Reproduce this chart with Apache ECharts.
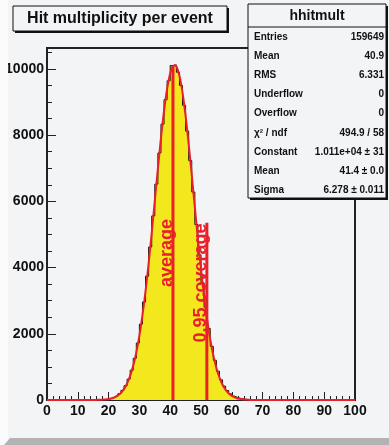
<!DOCTYPE html>
<html lang="en">
<head>
<meta charset="UTF-8">
<title>Hit multiplicity per event</title>
<script src="https://cdn.jsdelivr.net/npm/echarts@6/dist/echarts.min.js"></script>
<style>
  body { margin: 0; background: #fafafa; }
</style>
</head>
<body>
<div id="main" style="width:389px;height:445px;"></div>
<script>
// histogram: bin i covers [i, i+1)
var counts = [
  0, 0, 0, 0, 0, 0, 0, 0, 0, 0,
  0, 0, 0, 0, 0, 0, 0, 5, 12, 25,
  45, 75, 120, 190, 290, 430, 630, 900, 1260, 1720,
  2290, 2960, 3740, 4620, 5560, 6520, 7460, 8330, 9070, 9640,
  10100, 10120, 9900, 9500, 8900, 8120, 7230, 6280, 5300, 4380,
  3540, 2800, 2160, 1620, 1200, 870, 610, 420, 285, 185,
  115, 72, 44, 26, 15, 8, 4, 2, 0, 0,
  0, 0, 0, 0, 0, 0, 0, 0, 0, 0,
  0, 0, 0, 0, 0, 0, 0, 0, 0, 0,
  0, 0, 0, 0, 0, 0, 0, 0, 0, 0
];

// gaussian fit curve, read at bin centres
var fitX = [0, 14.5, 15.5, 16.5, 17.5, 18.5, 19.5, 20.5, 21.5, 22.5, 23.5, 24.5, 25.5, 26.5, 27.5,
  28.5, 29.5, 30.5, 31.5, 32.5, 33.5, 34.5, 35.5, 36.5, 37.5, 38.5, 39.5, 40.5, 41.5,
  42.5, 43.5, 44.5, 45.5, 46.5, 47.5, 48.5, 49.5, 50.5, 51.5, 52.5, 53.5, 54.5, 55.5,
  56.5, 57.5, 58.5, 59.5, 60.5, 61.5, 62.5, 63.5, 64.5, 65.5, 66.5, 67.5, 68.5, 100];
var fitY = [0, 1, 2, 4, 7, 13, 23, 40, 67, 109, 174, 270, 409, 605, 871,
  1224, 1677, 2240, 2916, 3701, 4581, 5526, 6501, 7455, 8336, 9087, 9657, 10007, 10109,
  9956, 9560, 8949, 8168, 7268, 6307, 5334, 4398, 3536, 2772, 2118, 1578, 1147, 812,
  560, 377, 248, 158, 99, 60, 36, 21, 12, 6, 3, 1, 1, 0];

// marker lines
var avgX = 40.9, avgTop = 10100;
var covX = 51.9, covTop = 5350;

var statNames = ['Entries', 'Mean', 'RMS', 'Underflow', 'Overflow', '\u03c7\u00b2 / ndf', 'Constant', 'Mean', 'Sigma'];
var statValues = ['159649', '40.9', '6.331', '0', '0', '494.9 / 58', '1.011e+04 \u00b1 31', '41.4 \u00b1 0.0', '6.278 \u00b1 0.011'];

var bg = '#f3f4f6';
var font = '"Liberation Sans", Arial, sans-serif';

var histPts = [];
for (var i = 0; i < counts.length; i++) {
  histPts.push([i, counts[i]]);
  histPts.push([i + 1, counts[i]]);
}
var fitPts = fitX.map(function (x, k) { return [x, fitY[k]]; });

var graphics = [
  { type: 'rect', shape: { x: 0, y: 0, width: 8, height: 445 }, style: { fill: '#fbfbfb' }, z: 1 },
  { type: 'polygon', shape: { points: [[10, 438], [389, 438], [389, 445], [4, 445]] }, style: { fill: '#b3b3b3' }, z: 1 },
  // title
  { type: 'rect', shape: { x: 15, y: 8, width: 214, height: 25 }, style: { fill: '#111' }, z: 50 },
  { type: 'rect', shape: { x: 13, y: 6, width: 214, height: 25 }, style: { fill: bg, stroke: '#111', lineWidth: 1 }, z: 51 },
  { type: 'text', x: 120, y: 19, z: 52, style: { text: 'Hit multiplicity per event', font: 'bold 16px ' + font, fill: '#111', textAlign: 'center', textVerticalAlign: 'middle' } },
  // stats box
  { type: 'rect', shape: { x: 250, y: 6, width: 138, height: 194 }, style: { fill: '#111' }, z: 50 },
  { type: 'rect', shape: { x: 248, y: 4, width: 138, height: 194 }, style: { fill: bg, stroke: '#111', lineWidth: 1 }, z: 51 },
  { type: 'line', shape: { x1: 248, y1: 27, x2: 386, y2: 27 }, style: { stroke: '#111', lineWidth: 1 }, z: 52 },
  { type: 'text', x: 317, y: 16, z: 52, style: { text: 'hhitmult', font: 'bold 14px ' + font, fill: '#111', textAlign: 'center', textVerticalAlign: 'middle' } },
  // rotated labels
  { type: 'text', x: 167, y: 253, rotation: Math.PI / 2, z: 40, style: { text: 'average', font: 'bold 18px ' + font, fill: '#e8202a', textAlign: 'center', textVerticalAlign: 'middle' } },
  { type: 'text', x: 201, y: 283, rotation: Math.PI / 2, z: 40, style: { text: '0.95 coverage', font: 'bold 18px ' + font, fill: '#e8202a', textAlign: 'center', textVerticalAlign: 'middle' } }
];
statNames.forEach(function (name, k) {
  var y = 37.3 + k * 19.1;
  graphics.push({ type: 'text', x: 254, y: y, z: 52, style: { text: name, font: 'bold 10px ' + font, fill: '#111', textAlign: 'left', textVerticalAlign: 'middle' } });
  graphics.push({ type: 'text', x: 384, y: y, z: 52, style: { text: statValues[k], font: 'bold 10px ' + font, fill: '#111', textAlign: 'right', textVerticalAlign: 'middle' } });
});

var myChart = echarts.init(document.getElementById('main'));
var option = {
  backgroundColor: bg,
  animation: false,
  grid: { left: 47, right: 34, top: 48, bottom: 45, show: true, borderColor: '#222', borderWidth: 2, backgroundColor: 'transparent' },
  xAxis: {
    type: 'value', min: 0, max: 100, interval: 10,
    axisLine: { lineStyle: { color: '#222', width: 2 } },
    axisTick: { inside: true, length: 8, lineStyle: { color: '#222', width: 1 } },
    minorTick: { show: true, splitNumber: 5, length: 4, lineStyle: { color: '#222', width: 1 } },
    axisLabel: { color: '#111', fontFamily: 'Liberation Sans', fontWeight: 'bold', fontSize: 14, margin: 4 },
    splitLine: { show: false }
  },
  yAxis: {
    type: 'value', min: 0, max: 10630, interval: 2000,
    axisLine: { show: true, lineStyle: { color: '#222', width: 2 } },
    axisTick: { show: true, inside: true, length: 9, lineStyle: { color: '#222', width: 1 } },
    minorTick: { show: true, splitNumber: 4, length: 5, lineStyle: { color: '#222', width: 1 } },
    axisLabel: {
      color: '#111', fontFamily: 'Liberation Sans', fontWeight: 'bold', fontSize: 14, margin: 3, showMaxLabel: false,
      formatter: function (v) { return String(v); }
    },
    splitLine: { show: false }
  },
  series: [
    {
      type: 'line', data: histPts, symbol: 'none', z: 2,
      lineStyle: { color: '#111', width: 1 },
      areaStyle: { color: '#f2e81d', opacity: 1 }
    },
    {
      type: 'line', data: fitPts, symbol: 'none', smooth: true, z: 3,
      lineStyle: { color: '#e8202a', width: 2 }
    },
    {
      type: 'line', data: [[avgX, 0], [avgX, avgTop]], symbol: 'none', z: 4,
      lineStyle: { color: '#e8202a', width: 3 }
    },
    {
      type: 'line', data: [[covX, 0], [covX, covTop]], symbol: 'none', z: 4,
      lineStyle: { color: '#e8202a', width: 3 }
    }
  ],
  graphic: graphics
};
myChart.setOption(option);
</script>
</body>
</html>
